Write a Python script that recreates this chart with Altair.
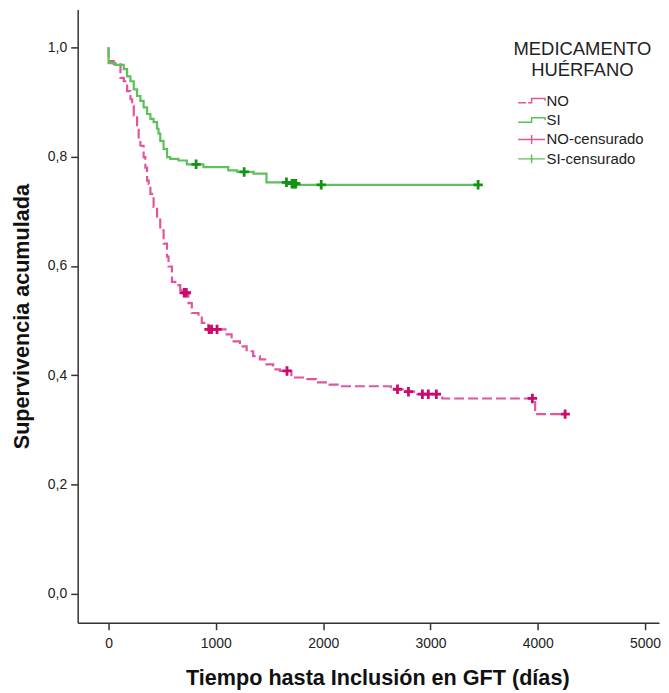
import altair as alt
import pandas as pd
import numpy as np

# ---- data ----
# Kaplan-Meier step points (time in days, survival level starting at that time)
si_t = [0, 0, 65, 142, 173, 204, 235, 266, 297, 327, 359, 390, 420, 452, 466, 482,
        513, 545, 575, 652, 730, 884, 1116, 1200, 1350, 1472, 1700, 1760, 3444]
si_v = [1.0, 0.971, 0.968, 0.960, 0.947, 0.938, 0.923, 0.911, 0.902, 0.890, 0.878,
        0.869, 0.863, 0.851, 0.842, 0.829, 0.814, 0.799, 0.796, 0.793, 0.786, 0.781,
        0.775, 0.772, 0.769, 0.753, 0.7505, 0.7485, 0.7485]

no_t = [0, 0, 49, 111, 142, 173, 204, 220, 235, 266, 281, 297, 327, 343, 359, 374,
        390, 420, 452, 482, 513, 545, 559, 591, 622, 668, 700, 745, 776, 838, 869,
        930, 1101, 1147, 1224, 1287, 1348, 1410, 1472, 1534, 1596, 1704, 1812, 1935,
        2060, 2150, 2631, 2760, 2878, 3110, 3976, 4255]
no_v = [1.0, 0.975, 0.969, 0.944, 0.938, 0.920, 0.905, 0.893, 0.875, 0.853, 0.835,
        0.820, 0.799, 0.780, 0.756, 0.750, 0.732, 0.708, 0.690, 0.665, 0.641, 0.617,
        0.599, 0.571, 0.565, 0.556, 0.551, 0.532, 0.514, 0.508, 0.496, 0.484, 0.475,
        0.462, 0.453, 0.444, 0.435, 0.429, 0.420, 0.411, 0.408, 0.396, 0.393, 0.387,
        0.383, 0.380, 0.3745, 0.370, 0.3655, 0.3576, 0.329, 0.329]

# censored times
si_cens = [816, 1264, 1658, 1710, 1730, 1745, 1982, 3444]
no_cens = [705, 725, 937, 960, 1011, 1663, 2693, 2795, 2925, 2980, 3055, 3950, 4255]

legend_labels = ["NO", "SI", "NO-censurado", "SI-censurado"]
x_ticks = [0, 1000, 2000, 3000, 4000, 5000]
y_ticks = [0.0, 0.2, 0.4, 0.6, 0.8, 1.0]


def level_at(ts, vs, times):
    ts = np.asarray(ts, float)
    vs = np.asarray(vs, float)
    idx = np.searchsorted(ts, np.asarray(times, float), side="right") - 1
    return vs[idx]


si_df = pd.DataFrame({"t": si_t, "v": si_v, "o": range(len(si_t))})
no_df = pd.DataFrame({"t": no_t, "v": no_v, "o": range(len(no_t))})
si_c = pd.DataFrame({"t": si_cens, "v": level_at(si_t, si_v, si_cens)})
no_c = pd.DataFrame({"t": no_cens, "v": level_at(no_t, no_v, no_cens)})
leg_df = pd.DataFrame({"grupo": legend_labels, "t": [0] * 4, "v": [0] * 4})

PINK_LINE = "#e2559c"
PINK_MARK = "#cc0a6c"
GREEN_LINE = "#5cc05c"
GREEN_MARK = "#139213"
FONT = "Liberation Sans"

xs = alt.Scale(domain=[-287.6, 5130], nice=False, zero=False)
ys = alt.Scale(domain=[-0.0527, 1.0691], nice=False, zero=False)

x_axis = alt.Axis(values=x_ticks, format="d", title="Tiempo hasta Inclusión en GFT (días)",
                  titleX=301, titleAnchor="middle", labelPadding=7, titlePadding=17)
y_axis = alt.Axis(values=y_ticks, title="Supervivencia acumulada",
                  labelExpr="replace(format(datum.value, '.1f'), '.', ',')",
                  labelPadding=4, titlePadding=14)

X = alt.X("t:Q", scale=xs, axis=x_axis)
Y = alt.Y("v:Q", scale=ys, axis=y_axis)

no_line = alt.Chart(no_df).mark_line(
    interpolate="step-after", color=PINK_LINE, strokeWidth=2.2, strokeDash=[10, 4]
).encode(x=X, y=Y, order="o:Q")

si_line = alt.Chart(si_df).mark_line(
    interpolate="step-after", color=GREEN_LINE, strokeWidth=2.2
).encode(x=X, y=Y, order="o:Q")

CROSS = "M-1,0H1M0,-1V1"
no_pts = alt.Chart(no_c).mark_point(
    shape=CROSS, size=90, filled=False, strokeWidth=2.8, color=PINK_MARK, opacity=1
).encode(x=X, y=Y)
si_pts = alt.Chart(si_c).mark_point(
    shape=CROSS, size=90, filled=False, strokeWidth=2.8, color=GREEN_MARK, opacity=1
).encode(x=X, y=Y)

SYM_NO = "M-1.35,0.22H-0.55M-0.35,0.22H0V-0.22H1.35V0"
SYM_SI = "M-1.35,0.22H0V-0.22H1.35V0"
SYM_C = "M-1.35,0H1.35M0,-0.45V0.45"

legend_layer = alt.Chart(leg_df).mark_point(
    filled=False, strokeWidth=1.5, opacity=1
).encode(
    x=X, y=Y,
    color=alt.Color("grupo:N", scale=alt.Scale(
        domain=legend_labels,
        range=[PINK_LINE, GREEN_LINE, PINK_LINE, GREEN_LINE])),
    shape=alt.Shape("grupo:N", scale=alt.Scale(
        domain=legend_labels, range=[SYM_NO, SYM_SI, SYM_C, SYM_C]),
        legend=alt.Legend(
            title=["MEDICAMENTO", "HUÉRFANO"], orient="none",
            legendX=438, legendY=31,
            titleFontSize=18.5, titleFontWeight="normal", titleColor="#222",
            titleFont=FONT, titleAnchor="middle", titleAlign="center",
            titleLineHeight=21, titlePadding=10,
            labelFontSize=15, labelFont=FONT, labelColor="#222",
            labelOffset=4, symbolSize=400, symbolStrokeWidth=1.5,
            rowPadding=0.5)),
).transform_filter("datum.t < -1")

chart = alt.layer(no_line, si_line, no_pts, si_pts, legend_layer).properties(
    width=584, height=616,
    padding={"left": 3, "top": 0, "right": 0, "bottom": 0},
).configure_view(stroke=None).configure_axis(
    grid=False, domainColor="#333", domainWidth=1.5, tickColor="#333", tickSize=7,
    tickWidth=1.5, labelFont=FONT, labelFontSize=14, labelColor="#222",
    titleFont=FONT, titleFontSize=21.7, titleFontWeight="bold", titleColor="#111",
)

chart.save("out.html", embed_options={"renderer": "svg", "actions": False})
